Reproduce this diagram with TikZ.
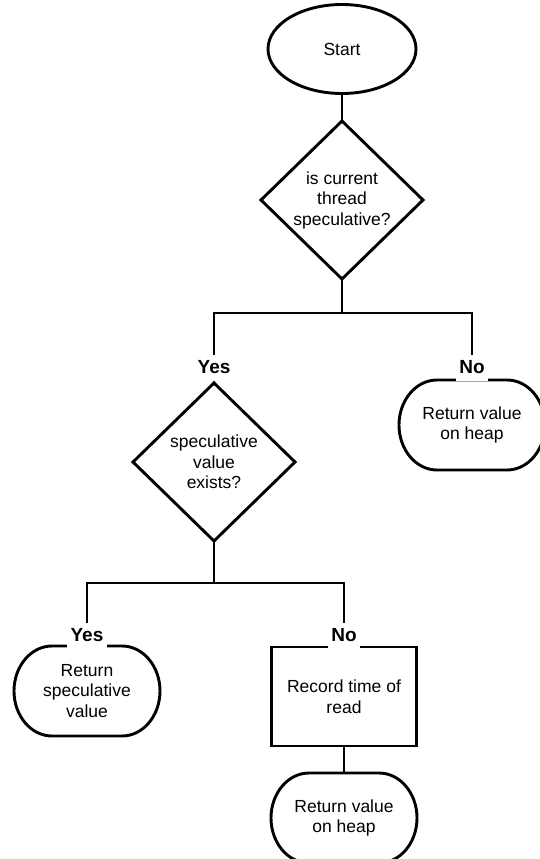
\documentclass[tikz,border=0pt]{standalone}
\usepackage{fontspec}
\setmainfont{Liberation Sans}
\usetikzlibrary{shapes.geometric}

% rounded end caps of the terminal boxes (elliptical arcs)
\newcommand\termrx{38pt}
\newcommand\termry{45pt}
\newcommand\drawterminal[1]{%
  \draw[flowline] ([xshift=\termrx]#1.north west) -- ([xshift=-\termrx]#1.north east)
    arc[start angle=90,end angle=-90,x radius=\termrx,y radius=\termry]
    -- ([xshift=\termrx]#1.south west)
    arc[start angle=270,end angle=90,x radius=\termrx,y radius=\termry] -- cycle;}

\begin{document}
\begin{tikzpicture}[x=1pt,y=-1pt,
  flowline/.style={line width=2.9pt},
  txt/.style={font=\fontsize{17.5}{20.5}\selectfont, align=center, inner sep=0pt, outer sep=0pt},
  startbox/.style={txt, ellipse, draw, flowline, minimum width=148pt, minimum height=89pt},
  decision/.style={txt, diamond, draw, flowline, minimum width=162pt, minimum height=158pt},
  terminal/.style={txt, rectangle, minimum width=146pt, minimum height=90pt},
  process/.style={txt, rectangle, draw, flowline, minimum width=145pt, minimum height=99pt},
  branch/.style={font=\fontsize{19}{22}\selectfont\bfseries, fill=white, anchor=base,
    text height=13.7pt, text depth=4pt, inner xsep=3.3pt, inner ysep=4pt}]

\useasboundingbox (0,0) rectangle (540,859);

% shapes
\node[startbox] (start) at (342,49) {Start};
\node[decision] (d1) at (342,200) {is current\\thread\\speculative?};
\node[decision] (d2) at (214,462) {speculative\\value\\exists?};
\node[terminal] (heap1) at (472,425) {Return value\\on heap};
\node[terminal] (spec) at (87,691) {Return\\speculative\\value};
\node[process] (rec) at (344,696.5) {Record time of\\read};
\node[terminal] (heap2) at (344,818) {Return value\\on heap};

\drawterminal{heap1}
\drawterminal{spec}
\drawterminal{heap2}

% connectors
\coordinate (j1) at (342,313);
\coordinate (j2) at (214,583);
\draw[flowline] (start.south) -- (d1.north);
\draw[flowline] (d1.south) -- (j1) -| (d2.north);
\draw[flowline] (j1) -| (heap1.north);
\draw[flowline] (d2.south) -- (j2) -| (spec.north);
\draw[flowline] (j2) -| (rec.north);
\draw[flowline] (rec.south) -- (heap2.north);

% branch labels
\node[branch] (yes1) at (214,373) {Yes};
\node[branch] (no1) at (472,373) {No};
\node[branch] (yes2) at (87,641) {Yes};
\node[branch] (no2) at (344,641) {No};
\end{tikzpicture}
\end{document}
